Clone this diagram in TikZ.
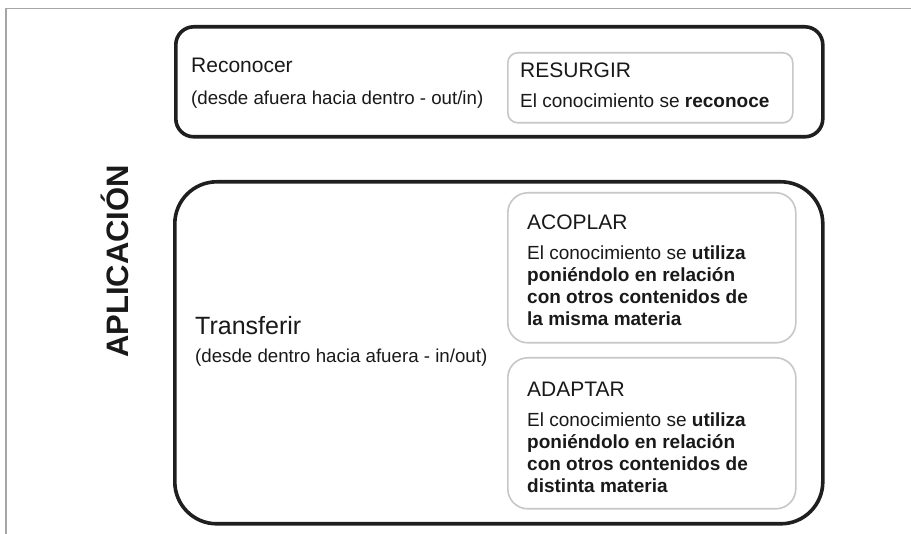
\documentclass[tikz,border=0pt]{standalone}
\usepackage{fontspec}
\setmainfont{Liberation Sans}
\begin{document}
\begin{tikzpicture}[x=1pt,y=-1pt,
  outerbox/.style={draw=black!88, line width=3.6pt, anchor=north west, inner sep=0pt},
  innerbox/.style={draw=black!22, line width=1.6pt, fill=white, anchor=north west, inner sep=0pt},
  txt/.style={anchor=base west, inner sep=0pt, text=black!90},
  ttl/.style={txt, font=\fontsize{21}{25}\selectfont},
  sub/.style={txt, font=\fontsize{18.7}{22}\selectfont},
  body/.style={txt, font=\fontsize{19}{22}\selectfont}]
\useasboundingbox (0,0) rectangle (911,534);
\fill[white] (0,0) rectangle (911,534);
\draw[gray!70, line width=1.4pt] (6,534) -- (6,8.5) -- (911,8.5);

% outer boxes
\node[outerbox, rounded corners=18pt, minimum width=647pt, minimum height=110pt] (topbox) at (174,25) {};
\node[outerbox, rounded corners=42pt, minimum width=648pt, minimum height=342pt] (lowbox) at (173,180) {};

% inner boxes
\node[innerbox, rounded corners=10pt, minimum width=285pt, minimum height=70pt] (resbox) at (507,52) {};
\node[innerbox, rounded corners=20pt, minimum width=288pt, minimum height=150pt] (acobox) at (507,192) {};
\node[innerbox, rounded corners=20pt, minimum width=288pt, minimum height=151pt] (adabox) at (507,357) {};

% side label
\node[anchor=base west, rotate=90, inner sep=0pt, text=black!90, font=\bfseries\fontsize{31}{31}\selectfont] (aplic) at (128,358) {APLICACIÓN};

% top box texts
\node[ttl] (reconocer) at (191,73) {Reconocer};
\node[sub] (recsub) at (191,105) {(desde afuera hacia dentro - out/in)};
\node[ttl] (resurgir) at (520,78) {RESURGIR};
\node[body] (restext) at (520,108) {El conocimiento se \textbf{reconoce}};

% lower box texts
\node[txt, font=\fontsize{25}{28}\selectfont] (transferir) at (195,335) {Transferir};
\node[sub] (trsub) at (195,363) {(desde dentro hacia afuera - in/out)};

\node[ttl] (acoplar) at (527,230) {ACOPLAR};
\node[body] (aco1) at (527,260) {El conocimiento se \textbf{utiliza}};
\node[body] (aco2) at (527,282) {\textbf{poniéndolo en relación}};
\node[body] (aco3) at (527,304) {\textbf{con otros contenidos de}};
\node[body] (aco4) at (527,326) {\textbf{la misma materia}};

\node[ttl] (adaptar) at (527,397) {ADAPTAR};
\node[body] (ada1) at (527,427) {El conocimiento se \textbf{utiliza}};
\node[body] (ada2) at (527,449) {\textbf{poniéndolo en relación}};
\node[body] (ada3) at (527,471) {\textbf{con otros contenidos de}};
\node[body] (ada4) at (527,493) {\textbf{distinta materia}};
\end{tikzpicture}
\end{document}
